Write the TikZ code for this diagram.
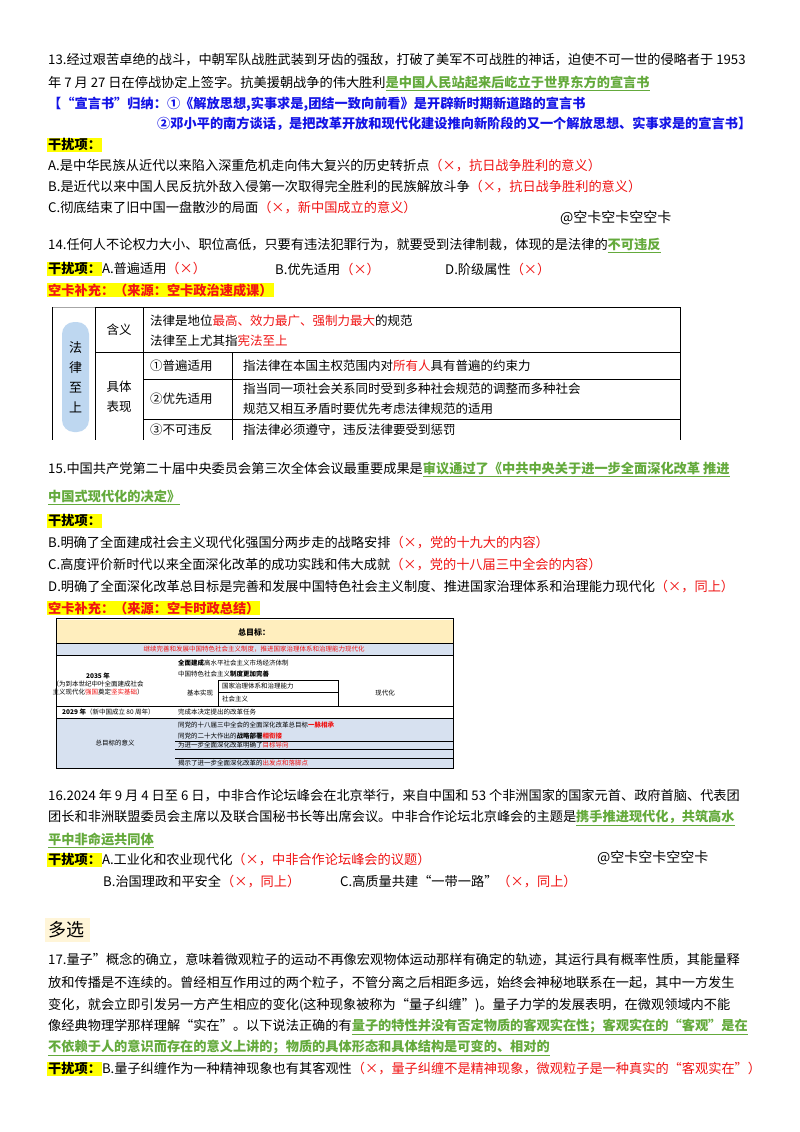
\documentclass[tikz,border=0pt]{standalone}
\usepackage{fontspec}
\setmainfont{Noto Sans CJK SC}
\definecolor{gr}{RGB}{100,170,60}
\definecolor{bl}{RGB}{20,20,230}
\definecolor{rd}{RGB}{240,20,20}
\definecolor{hy}{RGB}{255,255,0}
\definecolor{pill}{RGB}{190,215,240}
\definecolor{th}{RGB}{255,238,190}
\definecolor{tb}{RGB}{215,225,240}
\newcommand{\G}[1]{\textcolor{gr}{\bfseries\underline{#1}}}
\newcommand{\R}[1]{\textcolor{rd}{#1}}
\newcommand{\HL}[1]{{\setlength{\fboxsep}{1pt}\colorbox{hy}{\bfseries #1}}}
\tikzset{ln/.style={anchor=west,inner sep=0pt,font=\fontsize{13.2}{16}\selectfont},
 tt/.style={anchor=west,inner sep=0pt,font=\fontsize{12.5}{15}\selectfont},
 sm/.style={inner sep=0pt,font=\fontsize{6.5}{8}\selectfont},
 wm/.style={anchor=west,inner sep=0pt,font=\fontsize{14}{16}\selectfont}}
\begin{document}
\begin{tikzpicture}[x=1pt,y=-1pt]
\useasboundingbox[fill=white] (0,0) rectangle (800,1132);
% Q13
\node[ln] (l1) at (48,60) {13.经过艰苦卓绝的战斗，中朝军队战胜武装到牙齿的强敌，打破了美军不可战胜的神话，迫使不可一世的侵略者于 1953};
\node[ln] (l2) at (48,83) {年 7 月 27 日在停战协定上签字。抗美援朝战争的伟大胜利\G{是中国人民站起来后屹立于世界东方的宣言书}};
\node[ln,text=bl,font=\fontsize{13.2}{16}\selectfont\bfseries] (l3) at (48,104) {【“宣言书”归纳：①《解放思想,实事求是,团结一致向前看》是开辟新时期新道路的宣言书};
\node[ln,text=bl,font=\fontsize{13.2}{16}\selectfont\bfseries] (l4) at (157,124) {②邓小平的南方谈话，是把改革开放和现代化建设推向新阶段的又一个解放思想、实事求是的宣言书】};
\node[ln] (l5) at (47,145) {\HL{干扰项：}};
\node[ln] (l6) at (48,166) {A.是中华民族从近代以来陷入深重危机走向伟大复兴的历史转折点\R{（×，抗日战争胜利的意义）}};
\node[ln] (l7) at (48,187) {B.是近代以来中国人民反抗外敌入侵第一次取得完全胜利的民族解放斗争\R{（×，抗日战争胜利的意义）}};
\node[ln] (l8) at (48,208) {C.彻底结束了旧中国一盘散沙的局面\R{（×，新中国成立的意义）}};
\node[wm] (w1) at (560,218) {@空卡空卡空空卡};
% Q14
\node[ln] (m1) at (48,246) {14.任何人不论权力大小、职位高低，只要有违法犯罪行为，就要受到法律制裁，体现的是法律的\G{不可违反}};
\node[ln] (m2) at (47,269) {\HL{干扰项：}A.普遍适用\R{（×）}};
\node[ln] (m3) at (275,269) {B.优先适用\R{（×）}};
\node[ln] (m4) at (445,269) {D.阶级属性\R{（×）}};
\node[ln] (m5) at (47,290) {\HL{\textcolor{rd}{空卡补充：（来源：空卡政治速成课）}}};
% table 1
\draw[gray!70,line width=0.6pt] (52,307)--(680,307);
\draw[line width=0.8pt] (52,307)--(52,440) (95,307)--(95,440) (95,307)--(680,307)--(680,440);
\draw[line width=0.6pt] (143,307)--(143,440) (95,352)--(680,352) (143,379)--(680,379) (143,419)--(680,419) (232,352)--(232,440);
\fill[pill,rounded corners=12pt] (62,322) rectangle (89,432);
\node[tt,anchor=center,align=center,font=\fontsize{13}{20}\selectfont] (t0) at (75.5,377) {法\\律\\至\\上};
\node[tt,anchor=center] (t1) at (119,330) {含义};
\node[tt] (t2) at (150,321) {法律是地位\R{最高、效力最广、强制力最大}的规范};
\node[tt] (t3) at (150,341) {法律至上尤其指\R{宪法至上}};
\node[tt,anchor=center,align=center,font=\fontsize{12.5}{20}\selectfont] (t4) at (119,397) {具体\\表现};
\node[tt] (t5) at (150,366) {①普遍适用};
\node[tt] (t6) at (150,399) {②优先适用};
\node[tt] (t7) at (150,430) {③不可违反};
\node[tt] (t8) at (243,366) {指法律在本国主权范围内对\R{所有人}具有普遍的约束力};
\node[tt] (t9) at (243,389) {指当同一项社会关系同时受到多种社会规范的调整而多种社会};
\node[tt] (t10) at (243,409) {规范又相互矛盾时要优先考虑法律规范的适用};
\node[tt] (t11) at (243,430) {指法律必须遵守，违反法律要受到惩罚};
% Q15
\node[ln] (n1) at (48,469) {15.中国共产党第二十届中央委员会第三次全体会议最重要成果是\G{审议通过了《中共中央关于进一步全面深化改革 推进}};
\node[ln] (n2) at (48,497) {\G{中国式现代化的决定》}};
\node[ln] (n3) at (47,521) {\HL{干扰项：}};
\node[ln] (n4) at (48,543) {B.明确了全面建成社会主义现代化强国分两步走的战略安排\R{（×，党的十九大的内容）}};
\node[ln] (n5) at (48,565) {C.高度评价新时代以来全面深化改革的成功实践和伟大成就\R{（×，党的十八届三中全会的内容）}};
\node[ln] (n6) at (48,587) {D.明确了全面深化改革总目标是完善和发展中国特色社会主义制度、推进国家治理体系和治理能力现代化\R{（×，同上）}};
\node[ln] (n7) at (47,608) {\HL{\textcolor{rd}{空卡补充：（来源：空卡时政总结）}}};
% table 2
\fill[th] (56,620) rectangle (453,643);
\fill[tb] (56,643) rectangle (453,655);
\fill[tb] (56,718) rectangle (453,768);
\draw[line width=0.5pt] (56,618) rectangle (453,768);
\draw[line width=0.4pt] (56,643)--(453,643) (56,655)--(453,655) (56,706)--(453,706) (56,718)--(453,718);
\draw[line width=0.4pt] (218,680)--(338,680) (218,692)--(338,692) (218,680)--(218,706) (338,680)--(338,706);
\draw[line width=0.4pt] (175,741)--(453,741) (175,749)--(453,749) (175,758)--(453,758);
\node[sm,font=\fontsize{8}{9}\selectfont\bfseries] (s1) at (254,632) {总目标：};
\node[sm,text=rd] (s2) at (254,649) {继续完善和发展中国特色社会主义制度，推进国家治理体系和治理能力现代化};
\node[sm,align=center] (s3) at (98,684) {\textbf{2035 年}\\（为到本世纪中叶全面建成社会\\主义现代化\R{强国}奠定\R{坚实基础}）};
\node[sm,anchor=west] (s4) at (178,663) {\textbf{全面建成}高水平社会主义市场经济体制};
\node[sm,anchor=west] (s5) at (178,674) {中国特色社会主义\textbf{制度更加完善}};
\node[sm] (s6) at (200,693) {基本实现};
\node[sm,anchor=west] (s7) at (222,686) {国家治理体系和治理能力};
\node[sm,anchor=west] (s8) at (222,699) {社会主义};
\node[sm] (s9) at (385,693) {现代化};
\node[sm,anchor=west] (s10) at (62,712) {\textbf{2029 年}（新中国成立 80 周年）};
\node[sm,anchor=west] (s11) at (178,712) {完成本决定提出的改革任务};
\node[sm] (s12) at (115,743) {总目标的意义};
\node[sm,anchor=west] (s13) at (178,725) {同党的十八届三中全会的全面深化改革总目标\R{\textbf{一脉相承}}};
\node[sm,anchor=west] (s14) at (178,736) {同党的二十大作出的\textbf{战略部署}\R{\textbf{相衔接}}};
\node[sm,anchor=west] (s15) at (178,745) {为进一步全面深化改革明确了\R{目标导向}};
\node[sm,anchor=west] (s16) at (178,763) {揭示了进一步全面深化改革的\R{出发点和落脚点}};
% Q16
\node[ln] (p1) at (48,796) {16.2024 年 9 月 4 日至 6 日，中非合作论坛峰会在北京举行，来自中国和 53 个非洲国家的国家元首、政府首脑、代表团};
\node[ln] (p2) at (48,818) {团长和非洲联盟委员会主席以及联合国秘书长等出席会议。中非合作论坛北京峰会的主题是\G{携手推进现代化，共筑高水}};
\node[ln] (p3) at (48,840) {\G{平中非命运共同体}};
\node[ln] (p4) at (47,860) {\HL{干扰项：}A.工业化和农业现代化\R{（×，中非合作论坛峰会的议题）}};
\node[wm] (w2) at (597,858) {@空卡空卡空空卡};
\node[ln] (p5) at (103,882) {B.治国理政和平安全\R{（×，同上）}};
\node[ln] (p6) at (340,882) {C.高质量共建“一带一路”\R{（×，同上）}};
% multi
\fill[th!60] (45,918) rectangle (90,942);
\node[ln,font=\fontsize{18}{20}\selectfont] (q0) at (48,930) {多选};
\node[ln] (q1) at (48,960) {17.量子”概念的确立，意味着微观粒子的运动不再像宏观物体运动那样有确定的轨迹，其运行具有概率性质，其能量释};
\node[ln] (q2) at (48,983) {放和传播是不连续的。曾经相互作用过的两个粒子，不管分离之后相距多远，始终会神秘地联系在一起，其中一方发生};
\node[ln] (q3) at (48,1005) {变化，就会立即引发另一方产生相应的变化(这种现象被称为“量子纠缠”)。量子力学的发展表明，在微观领域内不能};
\node[ln] (q4) at (48,1027) {像经典物理学那样理解“实在”。以下说法正确的有\G{量子的特性并没有否定物质的客观实在性；客观实在的“客观”是在}};
\node[ln] (q5) at (48,1048) {\G{不依赖于人的意识而存在的意义上讲的；物质的具体形态和具体结构是可变的、相对的}};
\node[ln] (q6) at (47,1069) {\HL{干扰项：}B.量子纠缠作为一种精神现象也有其客观性\R{（×，量子纠缠不是精神现象，微观粒子是一种真实的“客观实在”）}};
\end{tikzpicture}
\end{document}
